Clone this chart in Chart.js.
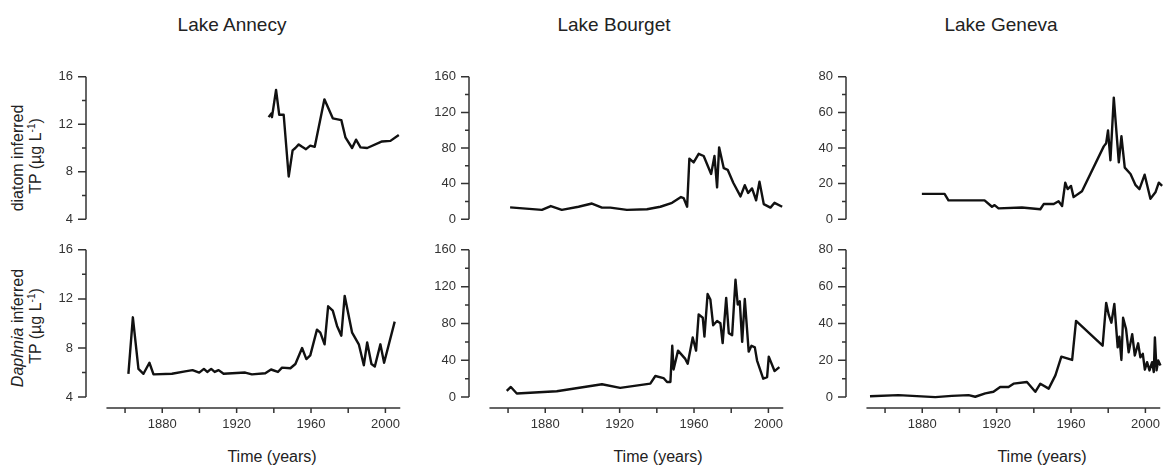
<!DOCTYPE html>
<html>
<head>
<meta charset="utf-8">
<script src="https://cdn.jsdelivr.net/npm/chart.js@4.4.1/dist/chart.umd.min.js"></script>
<style>
body { margin: 0; background: #fff; }
#wrap { position: relative; width: 1170px; height: 470px; overflow: hidden; font-family: "Liberation Sans", Arial, sans-serif; color: #222; }
canvas { position: absolute; }
.t { position: absolute; transform: translate(-50%, -50%); white-space: nowrap; }
.lake { font-size: 19px; }
.xt { font-size: 16px; }
.yt { font-size: 16px; transform: translate(-50%, -50%) rotate(-90deg); }
.yt sup { font-size: 10px; line-height: 0; }
</style>
</head>
<body>
<div id="wrap">
  <div class="t lake" style="left:232px;top:25px">Lake Annecy</div>
  <div class="t lake" style="left:614px;top:25px">Lake Bourget</div>
  <div class="t lake" style="left:1001px;top:25px">Lake Geneva</div>

  <div class="t yt" style="left:18px;top:158px">diatom inferred</div>
  <div class="t yt" style="left:36px;top:156px">TP (µg L<sup>-1</sup>)</div>
  <div class="t yt" style="left:18px;top:328px"><i>Daphnia</i> inferred</div>
  <div class="t yt" style="left:36px;top:326px">TP (µg L<sup>-1</sup>)</div>

  <div class="t xt" style="left:272px;top:457px">Time (years)</div>
  <div class="t xt" style="left:658px;top:457px">Time (years)</div>
  <div class="t xt" style="left:1042px;top:457px">Time (years)</div>

  <canvas id="annecyTop" width="382" height="166" style="left:26px;top:65px"></canvas>
  <canvas id="annecyBot" width="382" height="220" style="left:26px;top:238px"></canvas>
  <canvas id="bourgetTop" width="382" height="166" style="left:409px;top:65px"></canvas>
  <canvas id="bourgetBot" width="382" height="220" style="left:409px;top:238px"></canvas>
  <canvas id="genevaTop" width="382" height="166" style="left:786px;top:65px"></canvas>
  <canvas id="genevaBot" width="382" height="220" style="left:786px;top:238px"></canvas>
</div>
<script>
// x axis: ticks every 20 years, labels every 40
const yearTicks = [1860, 1880, 1900, 1920, 1940, 1960, 1980, 2000];
const yearLabels = [1880, 1920, 1960, 2000];

// y axis ticks per lake (labelled ones listed separately)
const annecyTicks = [4, 6, 8, 10, 12, 14, 16];
const annecyLabels = [4, 8, 12, 16];
const bourgetTicks = [0, 20, 40, 60, 80, 100, 120, 140, 160];
const bourgetLabels = [0, 40, 80, 120, 160];
const genevaTicks = [0, 10, 20, 30, 40, 50, 60, 70, 80];
const genevaLabels = [0, 20, 40, 60, 80];

// Lake Annecy
const annecyDiatomYears = [1937.2, 1938.6, 1939.0, 1941.2, 1942.9, 1945.3, 1948.0, 1950.1, 1951.6, 1953.4, 1955.2, 1957.3, 1959.6, 1962.0, 1967.2, 1971.7, 1976.3, 1978.5, 1982.1, 1984.2, 1986.6, 1990.2, 1998.2, 2002.7, 2007.2];
const annecyDiatomTP = [12.6, 12.9, 12.6, 14.9, 12.8, 12.8, 7.6, 9.8, 10.0, 10.3, 10.1, 9.9, 10.2, 10.1, 14.1, 12.5, 12.35, 10.9, 10.0, 10.7, 10.05, 10.0, 10.55, 10.6, 11.1];
const annecyDaphniaYears = [1861.8, 1864.2, 1867.2, 1869.9, 1873.1, 1875.3, 1885.2, 1892.3, 1896.3, 1899.9, 1902.4, 1904.2, 1906.3, 1908.2, 1910.3, 1913.0, 1924.6, 1928.2, 1935.4, 1938.5, 1942.2, 1944.4, 1948.9, 1951.6, 1955.2, 1957.5, 1959.6, 1963.2, 1965.0, 1967.3, 1969.2, 1971.7, 1974.0, 1976.3, 1978.1, 1982.1, 1985.7, 1988.4, 1990.2, 1992.5, 1994.3, 1997.3, 1999.3, 2005.0];
const annecyDaphniaTP = [5.9, 10.5, 6.3, 5.9, 6.8, 5.85, 5.9, 6.1, 6.2, 6.0, 6.3, 6.05, 6.3, 6.05, 6.2, 5.9, 6.0, 5.85, 5.95, 6.25, 6.05, 6.4, 6.35, 6.7, 8.0, 7.1, 7.4, 9.5, 9.25, 8.3, 11.4, 11.05, 9.8, 9.0, 12.25, 9.25, 8.3, 6.6, 8.45, 6.7, 6.5, 8.3, 6.8, 10.15];

// Lake Bourget
const bourgetDiatomYears = [1861.1, 1878.2, 1883.0, 1888.9, 1897.9, 1905.1, 1910.5, 1915.0, 1923.9, 1934.7, 1941.9, 1948.2, 1953.0, 1954.4, 1956.3, 1957.5, 1959.8, 1962.5, 1965.2, 1969.2, 1971.0, 1972.4, 1973.5, 1976.0, 1978.1, 1981.1, 1985.0, 1987.3, 1989.1, 1991.2, 1993.4, 1995.2, 1997.5, 2001.1, 2003.3, 2007.4];
const bourgetDiatomTP = [13.3, 10.5, 14.8, 10.5, 14, 17.6, 13, 13, 10.5, 11.2, 14, 18.4, 24.9, 23.8, 14, 68, 63.8, 73.5, 71, 50.8, 71, 35.7, 80.7, 57.3, 55.5, 41, 25.6, 38.2, 29.5, 34.6, 21.3, 42.2, 17, 13, 18.4, 14];
const bourgetDaphniaYears = [1859.3, 1861.5, 1864.7, 1886.2, 1910.5, 1920.3, 1936.5, 1939.2, 1943.6, 1945.5, 1947.3, 1948.3, 1949.0, 1951.4, 1955.3, 1956.6, 1959.3, 1961.1, 1962.5, 1964.7, 1965.6, 1967.3, 1968.8, 1970.3, 1972.4, 1974.2, 1975.4, 1977.3, 1978.7, 1980.5, 1982.3, 1983.5, 1984.6, 1985.9, 1987.3, 1989.4, 1990.9, 1992.7, 1993.9, 1997.2, 1999.3, 2000.2, 2003.3, 2005.9];
const bourgetDaphniaTP = [6.8, 11, 4, 6.4, 14, 10, 14.7, 22.9, 20.7, 16.4, 16.4, 55.8, 30, 50.5, 41.5, 36.2, 64.8, 50.5, 89.9, 86.2, 65.8, 112, 106, 78, 82.7, 80.2, 58.7, 107.7, 69.5, 67.3, 127.5, 100.6, 104, 60, 106.6, 49.4, 55.8, 54, 39.7, 20, 21.8, 44, 28.3, 32.6];

// Lake Geneva
const genevaDiatomYears = [1879.8, 1892.0, 1894.1, 1913.5, 1917.5, 1918.9, 1921.0, 1933.6, 1943.5, 1945.3, 1950.7, 1953.3, 1955.2, 1956.9, 1958.2, 1960.0, 1961.4, 1965.9, 1977.6, 1978.9, 1979.9, 1981.2, 1983.0, 1985.7, 1987.1, 1988.9, 1992.0, 1994.6, 1996.8, 1999.6, 2002.7, 2005.4, 2007.2, 2009.0];
const genevaDiatomTP = [14.2, 14.2, 10.6, 10.6, 7, 7.9, 6.1, 6.6, 5.6, 8.5, 8.5, 10.1, 7.4, 20.5, 16.9, 18.7, 12.4, 15.7, 40.9, 42.7, 49.9, 33.1, 68.3, 31.9, 46.6, 29, 25.4, 19.3, 16.9, 25, 11.5, 15.1, 20.5, 18.7];
const genevaDaphniaYears = [1851.9, 1867.2, 1887.0, 1895.9, 1904.9, 1908.5, 1913.9, 1918.3, 1921.9, 1926.4, 1929.1, 1936.3, 1940.8, 1943.5, 1948.0, 1951.6, 1954.8, 1960.6, 1962.7, 1977.0, 1978.9, 1980.3, 1981.7, 1983.3, 1985.1, 1986.0, 1987.1, 1988.0, 1989.6, 1991.0, 1992.9, 1994.3, 1996.1, 1997.3, 1998.6, 1999.7, 2000.9, 2002.2, 2003.6, 2004.5, 2005.1, 2006.0, 2006.9, 2008.1];
const genevaDaphniaTP = [0.5, 1.1, 0, 0.7, 1.1, 0.2, 2, 2.9, 5.5, 5.5, 7.3, 8.2, 2.9, 7.3, 4.6, 11.8, 22, 20.2, 41.4, 27.9, 51.2, 44.6, 40.4, 50.6, 27, 32.8, 20.2, 43.1, 36.9, 24.3, 34.2, 22.6, 29.2, 21.6, 23.5, 14.9, 19, 14.5, 19, 13.6, 32.4, 14.5, 19.9, 17.2];

const axisColor = '#333';

// axis lines and tick marks, offset like the original figure
const axisLines = {
    id: 'axisLines',
    afterDraw(chart) {
        const ctx = chart.ctx;
        const x = chart.scales.x, y = chart.scales.y;
        const ax = chart.chartArea.left;
        ctx.save();
        ctx.strokeStyle = axisColor;
        ctx.lineWidth = 1.5;
        ctx.beginPath();
        const yt = y.ticks;
        ctx.moveTo(ax, y.getPixelForValue(yt[0].value));
        ctx.lineTo(ax, y.getPixelForValue(yt[yt.length - 1].value));
        yt.forEach(t => {
            const py = y.getPixelForValue(t.value);
            const len = t.label !== '' ? 8 : 4;
            ctx.moveTo(ax - len, py);
            ctx.lineTo(ax, py);
        });
        if (x.options.display) {
            const py = chart.chartArea.bottom;
            ctx.moveTo(x.getPixelForValue(1850), py);
            ctx.lineTo(x.getPixelForValue(2008), py);
            x.ticks.forEach(t => {
                const px = x.getPixelForValue(t.value);
                ctx.moveTo(px, py);
                ctx.lineTo(px, py + 5);
            });
        }
        ctx.stroke();
        ctx.restore();
    }
};

function makePanel(id, years, values, ticks, labels, bottom) {
    const lo = ticks[0], hi = ticks[ticks.length - 1];
    const yMin = bottom ? lo - (hi - lo) * 11 / 149 : lo;
    const points = years.map((yr, i) => ({ x: yr, y: values[i] }));
    new Chart(document.getElementById(id), {
        type: 'line',
        data: {
            datasets: [{
                data: points,
                borderColor: '#111',
                borderWidth: 2.4,
                borderJoinStyle: 'round',
                pointRadius: 0,
                tension: 0
            }]
        },
        options: {
            responsive: false,
            animation: false,
            devicePixelRatio: 1,
            layout: { autoPadding: false, padding: { top: 10, bottom: bottom ? 0 : 8, left: 0, right: 4 } },
            plugins: { legend: { display: false }, tooltip: { enabled: false } },
            scales: {
                x: {
                    type: 'linear',
                    display: bottom,
                    min: 1839,
                    max: 2010,
                    afterBuildTicks: s => { s.ticks = yearTicks.map(v => ({ value: v })); },
                    afterFit: s => { s.height = bottom ? 50 : 0; },
                    border: { display: false },
                    grid: { display: false, drawTicks: true, tickLength: 5 },
                    ticks: {
                        padding: 4,
                        maxRotation: 0,
                        autoSkip: false,
                        color: '#333',
                        font: { family: 'Liberation Sans', size: 13 },
                        callback: v => yearLabels.includes(v) ? String(v) : ''
                    }
                },
                y: {
                    min: yMin,
                    max: hi,
                    afterBuildTicks: s => { s.ticks = ticks.map(v => ({ value: v })); },
                    afterFit: s => { s.width = 60; },
                    border: { display: false },
                    grid: { display: false, drawTicks: true, tickLength: 9 },
                    ticks: {
                        padding: 4,
                        autoSkip: false,
                        color: '#333',
                        font: { family: 'Liberation Sans', size: 13 },
                        callback: v => labels.includes(v) ? String(v) : ''
                    }
                }
            }
        },
        plugins: [axisLines]
    });
}

makePanel('annecyTop', annecyDiatomYears, annecyDiatomTP, annecyTicks, annecyLabels, false);
makePanel('annecyBot', annecyDaphniaYears, annecyDaphniaTP, annecyTicks, annecyLabels, true);
makePanel('bourgetTop', bourgetDiatomYears, bourgetDiatomTP, bourgetTicks, bourgetLabels, false);
makePanel('bourgetBot', bourgetDaphniaYears, bourgetDaphniaTP, bourgetTicks, bourgetLabels, true);
makePanel('genevaTop', genevaDiatomYears, genevaDiatomTP, genevaTicks, genevaLabels, false);
makePanel('genevaBot', genevaDaphniaYears, genevaDaphniaTP, genevaTicks, genevaLabels, true);
</script>
</body>
</html>
